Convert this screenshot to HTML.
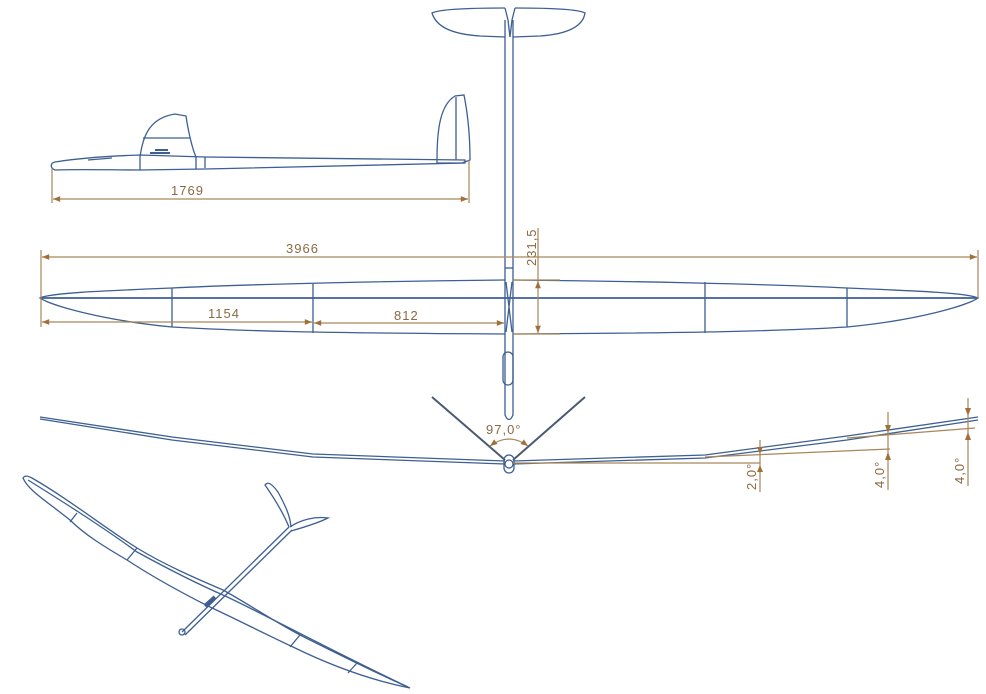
<!DOCTYPE html>
<html><head><meta charset="utf-8"><style>
html,body{margin:0;padding:0;background:#fff}
svg{display:block}
text{font-family:"Liberation Sans",sans-serif;fill:#8a6a44;font-size:13px;letter-spacing:1px}
</style></head><body>
<svg width="986" height="694" viewBox="0 0 986 694" xmlns="http://www.w3.org/2000/svg">
<defs>
<marker id="a" viewBox="0 0 10 10" refX="10" refY="5" markerWidth="7" markerHeight="6" orient="auto-start-reverse"><path d="M0,1 L10,5 L0,9 z" fill="#a0703a"/></marker>
</defs>
<g fill="none" stroke="#3d5f92" stroke-width="1.3">
<!-- top view stab -->
<path d="M505,8 C470,8 440,9 432,13 C436,26 450,34 480,36 L505,37 M515,8 C550,8 578,9 585,13 C583,26 568,34 540,36 L513,37"/>
<path d="M505,8 L508,20 L510,37 M515,8 L512,20 L510,37"/>
<!-- fuselage top -->
<path d="M505,20 L505,280 M513,20 L513,280"/>
<path d="M505,268 L513,268" />
<path d="M505,334 L505,415 Q509,424 513,415 L513,334"/>
<rect x="503" y="352" width="10" height="33" rx="5"/>
<path d="M506,282 L512,332 M512,282 L506,332"/>
<!-- wing planform -->
<path d="M505,280 C400,281 250,284 172,288 C100,291 50,293 40,298 C50,305 100,320 172,327 C240,331 320,333 505,334"/>
<path d="M513,280 C620,281 770,284 847,288 C920,291 968,293 978,298 C968,305 920,320 847,327 C780,331 700,333 513,334"/>
<path d="M40,298 L978,298" stroke-width="1.8"/>
<path d="M172,288 V327 M313,284 V333 M705,282 V333 M847,288 V327"/>
<path d="M505,280 V334 M513,280 V334"/>
<!-- side view -->
<path d="M55,162 C80,158 110,156 140,155 L205,157 L465,160 L465,163 L205,169 L140,170 C110,170 80,169 55,170 C50,168 50,163 55,162 z"/>
<path d="M140,157 C143,135 150,118 175,114 L186,116 C188,130 192,148 196,157"/>
<path d="M143,138 L190,138 M140,157 V170 M196,157 V169 M205,157 V168"/>
<path d="M150,153 L170,153 M155,150 L168,150" stroke-width="2"/>
<path d="M88,160 L112,158"/>
<path d="M437,160 C437,130 440,105 455,96 L464,95 C468,115 470,140 470,160 L462,163 L437,163 z M456,97 V160"/>
<!-- front view -->
<path d="M40,417 L172,437 L313,454 L505,461 M40,419 L172,440 L313,457 L505,464" />
<path d="M513,461 L705,455 L847,436 L978,417 M513,464 L705,458 L847,440 L978,420"/>
<path d="M505,460 L432,397 M513,460 L585,397" stroke="#4a5a70" stroke-width="2"/>
<rect x="504" y="455" width="10" height="18" rx="5"/>
<circle cx="509" cy="464" r="4"/>
<!-- iso view -->
<path d="M23,478 C25,475 28,476 32,478 C70,500 105,528 137,548 C165,565 195,578 223,590 C250,605 275,622 300,635 C340,655 380,675 410,688 C380,682 340,670 293,647 C265,634 238,620 210,607 C180,592 150,575 127,560 C105,547 85,535 70,520 C45,500 28,490 23,478 z"/>
<path d="M28,480 C60,500 100,525 137,552 C170,570 200,585 223,595 C260,612 330,650 408,687"/>
<path d="M77,513 L70,522 M137,548 L127,560 M300,635 L290,647 M357,663 L348,673"/>
<path d="M182,632 L289,527 M185,635 L292,530"/>
<circle cx="182" cy="632" r="3"/>
<path d="M289,527 C282,510 272,495 265,485 C268,481 272,484 278,492 C285,505 290,515 291,527"/>
<path d="M290,527 C300,520 315,516 328,518 C320,522 305,527 291,531"/>
<path d="M205,606 L215,597" stroke-width="4"/>
</g>
<!-- dimensions -->
<g stroke="#a8865a" stroke-width="1.2" fill="none">
<path d="M52,168 V203 M469,160 V203"/>
<path d="M53,199 L468,199" marker-start="url(#a)" marker-end="url(#a)"/>
<path d="M41,250 V327 M978,250 V298"/>
<path d="M42,257 L977,257" marker-start="url(#a)" marker-end="url(#a)"/>
<path d="M42,322 L312,322" marker-start="url(#a)" marker-end="url(#a)"/>
<path d="M314,323 L504,323" marker-start="url(#a)" marker-end="url(#a)"/>
<path d="M513,280 H560 M513,334 H560"/>
<path d="M538,281 L538,333" marker-start="url(#a)" marker-end="url(#a)"/>
<path d="M538,228 V280"/>
<path d="M490,446 Q509,432 528,446" marker-start="url(#a)" marker-end="url(#a)"/>
<path d="M513,463 L760,463 M705,457 L890,449 M847,438 L975,428"/>
<path d="M760,440 V492 M888,412 V490 M968,398 V486"/>
</g>
<g fill="#a0703a">
<path d="M757,447 L763,447 L760,454 z M757,472 L763,472 L760,465 z"/>
<path d="M885,425 L891,425 L888,433 z M885,460 L891,460 L888,452 z"/>
<path d="M965,408 L971,408 L968,416 z M965,440 L971,440 L968,432 z"/>
</g>
<text x="171" y="195">1769</text>
<text x="286" y="253">3966</text>
<text x="208" y="318">1154</text>
<text x="394" y="320">812</text>
<text x="486" y="434">97,0°</text>
<text transform="translate(536,266) rotate(-90)">231,5</text>
<text transform="translate(756,490) rotate(-90)">2,0°</text>
<text transform="translate(884,488) rotate(-90)">4,0°</text>
<text transform="translate(964,484) rotate(-90)">4,0°</text>
</svg>
</body></html>
